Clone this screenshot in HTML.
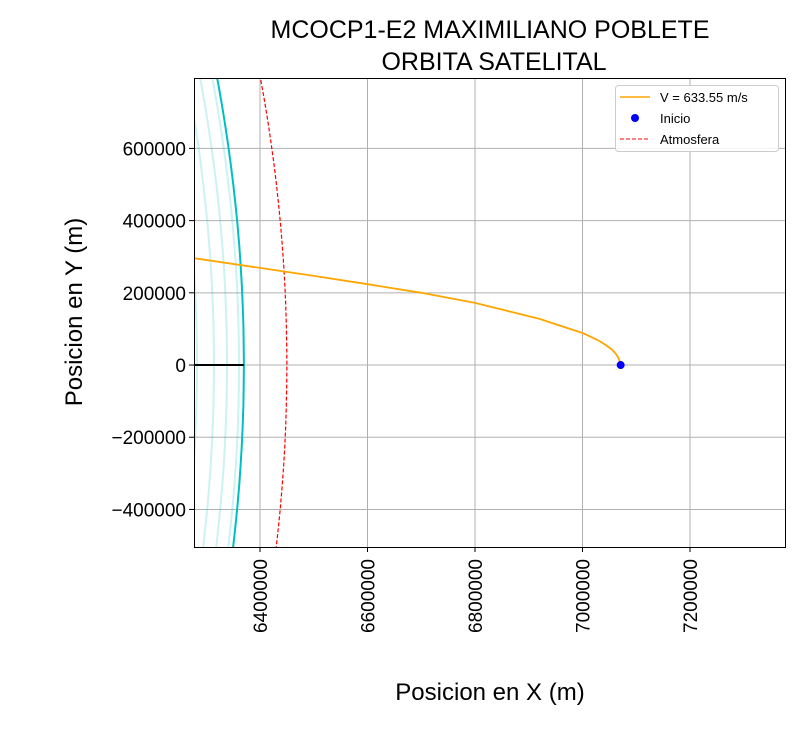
<!DOCTYPE html>
<html><head><meta charset="utf-8"><style>
body{margin:0;background:#fff}
svg{display:block;font-family:"Liberation Sans","DejaVu Sans",sans-serif}
</style></head><body>
<svg id="c" width="800" height="741">
<text x="490" y="38" text-anchor="middle" font-size="25">MCOCP1-E2 MAXIMILIANO POBLETE</text>
<text x="494" y="70" text-anchor="middle" font-size="25">ORBITA SATELITAL</text>
<text x="490" y="700" text-anchor="middle" font-size="24">Posicion en X (m)</text>
<text transform="translate(82,312) rotate(-90)" text-anchor="middle" font-size="24">Posicion en Y (m)</text>
<g id="grid"></g><g id="marks"></g><g id="ticks"></g>
<rect x="194.5" y="78.5" width="591" height="469" fill="none" stroke="#000" stroke-width="1"/>
<g>
<rect x="615.5" y="85.5" width="163" height="66" rx="3" fill="#fff" fill-opacity="0.85" stroke="#ccc"/>
<line x1="620" y1="97" x2="650" y2="97" stroke="orange" stroke-width="1.6"/>
<text x="660" y="102" font-size="13">V = 633.55 m/s</text>
<circle cx="635" cy="118" r="4" fill="blue"/>
<text x="660" y="123" font-size="13">Inicio</text>
<line x1="620" y1="139" x2="650" y2="139" stroke="red" stroke-dasharray="4,2"/>
<text x="660" y="144" font-size="13">Atmosfera</text>
</g>
</svg>
<script>
const xTicks=[6400000,6600000,6800000,7000000,7200000];
const yTicks=[600000,400000,200000,0,-200000,-400000];
const trajX=[7070700,7069500,7067000,7062000,7055800,7044000,7031600,7016000,7000000,6960000,6920900,6860000,6800000,6700000,6600000,6500000,6400000,6277000];
const trajY=[0,8000,19400,31000,41500,54500,66500,78000,88600,108000,127400,150000,172000,200000,224000,247000,269000,296000];
const startPt=[7071000,0];
const earthR=6370000;
const innerR=[6361000,6338600,6314400,6282800];
const atmR=6450000;
const X0=6277209,X1=7376744,Y0=-504000,Y1=795000;
const L=194,R=785,T=78,B=547;
const sx=v=>L+(v-X0)/(X1-X0)*(R-L);
const sy=v=>B-(v-Y0)/(Y1-Y0)*(B-T);
const NS="http://www.w3.org/2000/svg";
function mk(t,a,p){const e=document.createElementNS(NS,t);for(const k in a)e.setAttribute(k,a[k]);document.getElementById(p).appendChild(e);return e;}
xTicks.forEach(v=>{
 const g=mk('line',{x1:sx(v),x2:sx(v),y1:T,y2:B,stroke:'#b0b0b0','stroke-width':1},'grid');
 
 
 mk('line',{x1:sx(v),x2:sx(v),y1:B,y2:B+5,stroke:'#000'},'ticks');
 const t=mk('text',{transform:`translate(${sx(v)+7},${B+12}) rotate(-90)`,'text-anchor':'end','font-size':19},'ticks');
 t.textContent=v;
 
 
});
yTicks.forEach(v=>{
 const g=mk('line',{x1:L,x2:R,y1:sy(v),y2:sy(v),stroke:'#b0b0b0','stroke-width':1},'grid');
 
 
 mk('line',{x1:L-5,x2:L,y1:sy(v),y2:sy(v),stroke:'#000'},'ticks');
 const t=mk('text',{x:L-8,y:sy(v)+7,'text-anchor':'end','font-size':19},'ticks');
 t.textContent=v<0?'\u2212'+(-v):v;
 
 
});
function circ(r){let s='';for(let a=-90;a<=90;a+=0.5){const t=a*Math.PI/180;const x=sx(r*Math.cos(t)),y=sy(r*Math.sin(t));if(y>T-30&&y<B+30)s+=(s?'L':'M')+x.toFixed(1)+','+y.toFixed(1);}return s;}
const clip=mk('clipPath',{id:'pc'},'marks');mk('rect',{x:L,y:T,width:R-L,height:B-T},'pc');
innerR.forEach(r=>{const p=mk('path',{d:circ(r),fill:'none',stroke:'#00bfbf','stroke-opacity':0.2,'stroke-width':2,'clip-path':'url(#pc)'},'marks');
 
 });
const e=mk('path',{d:circ(earthR),fill:'none',stroke:'#00bfbf','stroke-width':2,'clip-path':'url(#pc)'},'marks');


const a=mk('path',{d:circ(atmR),fill:'none',stroke:'red','stroke-width':1.2,'stroke-dasharray':'4,2','clip-path':'url(#pc)'},'marks');


const rl=mk('line',{x1:L,x2:sx(earthR),y1:sy(0),y2:sy(0),stroke:'#000','stroke-width':2},'marks');


const tp=mk('path',{d:trajX.map((x,i)=>(i?'L':'M')+sx(x).toFixed(1)+','+sy(trajY[i]).toFixed(1)).join(''),fill:'none',stroke:'orange','stroke-width':1.8,'stroke-linejoin':'round','clip-path':'url(#pc)'},'marks');


const sp=mk('circle',{cx:sx(startPt[0]),cy:sy(startPt[1]),r:4,fill:'blue'},'marks');


</script>
</body></html>
